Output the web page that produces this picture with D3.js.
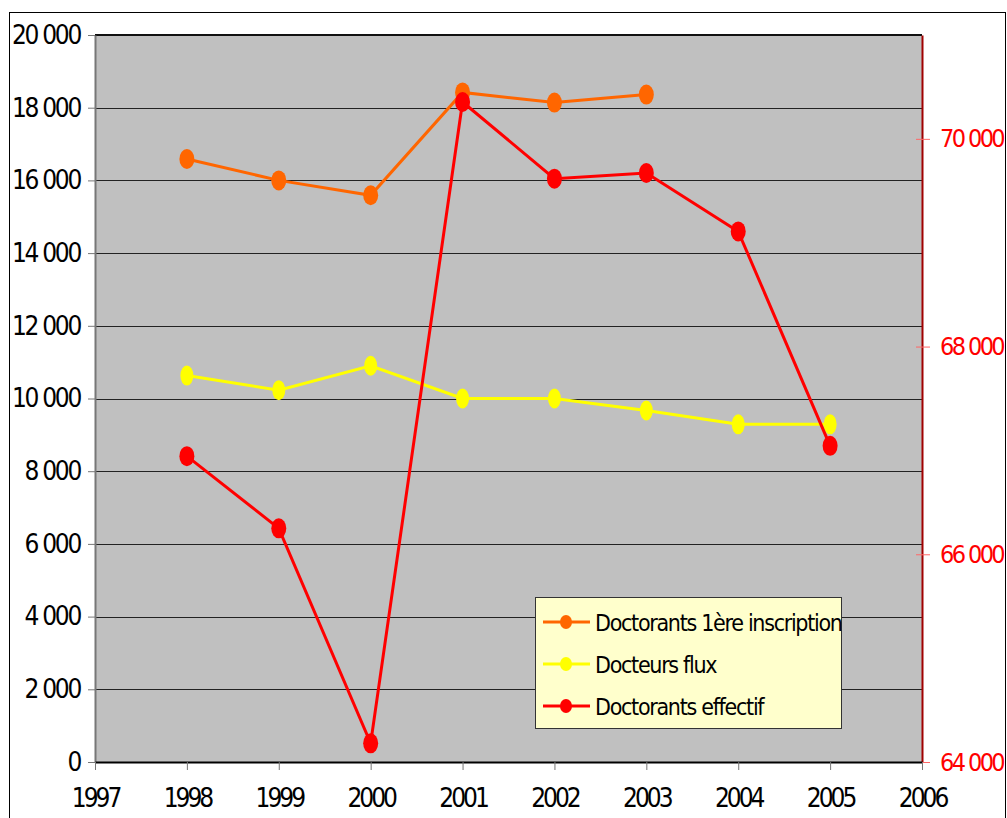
<!DOCTYPE html>
<html>
<head>
<meta charset="utf-8">
<script src="https://cdn.jsdelivr.net/npm/d3@7"></script>
<style>
  html, body { margin: 0; padding: 0; background: #fff; }
  svg text { font-family: "DejaVu Sans Condensed", "DejaVu Sans", sans-serif; }
</style>
</head>
<body>
<div id="chart"></div>
<script>
const years = [1998, 1999, 2000, 2001, 2002, 2003, 2004, 2005];
const inscription = [16590, 16000, 15590, 18420, 18140, 18360, null, null];
const docteursFlux = [10630, 10230, 10900, 10000, 10000, 9670, 9290, 9290];
const effectif = [66945, 66250, 64180, 70355, 69617, 69671, 69109, 67044];

const seriesNames = ["Doctorants 1ère inscription", "Docteurs flux", "Doctorants effectif"];
const seriesColors = ["#ff6600", "#ffff00", "#ff0000"];

const leftTicks = d3.range(0, 20001, 2000);
const rightTicks = [64000, 66000, 68000, 70000];
const yearTicks = d3.range(1997, 2007);

const W = 1007, H = 818;
const plot = { left: 95, right: 922, top: 35, bottom: 762 };

const fr = d3.formatLocale({ decimal: ",", thousands: " ", grouping: [3], currency: ["", ""] });
const fmt = fr.format(",");

const svg = d3.select('#chart').append('svg')
  .attr('width', W)
  .attr('height', H);

// outer chart border
svg.append('rect')
  .attr('x', 9.5).attr('y', 12.5)
  .attr('width', 996).attr('height', 820)
  .attr('fill', '#fff')
  .attr('stroke', '#000')
  .attr('stroke-width', 1);

const x = d3.scaleLinear().domain([1997, 2006]).range([plot.left, plot.right]);
const yL = d3.scaleLinear().domain([0, 20000]).range([plot.bottom, plot.top]);
const yR = d3.scaleLinear().domain([64000, 71000]).range([plot.bottom, plot.top]);

// plot background
svg.append('rect')
  .attr('x', plot.left).attr('y', plot.top)
  .attr('width', plot.right - plot.left)
  .attr('height', plot.bottom - plot.top)
  .attr('fill', '#c0c0c0');

// gridlines
svg.append('g')
  .selectAll('line')
  .data(leftTicks.filter(d => d > 0 && d < 20000))
  .enter()
  .append('line')
    .attr('x1', plot.left).attr('x2', plot.right)
    .attr('y1', d => Math.round(yL(d)) + 0.5)
    .attr('y2', d => Math.round(yL(d)) + 0.5)
    .attr('stroke', '#222')
    .attr('stroke-width', 1);

// top border of plot
svg.append('line')
  .attr('x1', plot.left).attr('x2', plot.right)
  .attr('y1', plot.top).attr('y2', plot.top)
  .attr('stroke', '#111').attr('stroke-width', 2);

// left axis
const leftAxis = svg.append('g')
  .attr('transform', `translate(${plot.left},0)`)
  .call(d3.axisLeft(yL).tickValues(leftTicks).tickFormat(fmt).tickSize(7).tickSizeOuter(0).tickPadding(8));
leftAxis.select('.domain').attr('stroke', '#777').attr('stroke-width', 2);
leftAxis.selectAll('.tick line').attr('stroke', '#777');
leftAxis.selectAll('text')
  .attr('fill', '#000')
  .style('font-size', '26px')
  .style('letter-spacing', '-2.3px');

// right axis
const rightAxis = svg.append('g')
  .attr('transform', `translate(${plot.right},0)`)
  .call(d3.axisRight(yR).tickValues(rightTicks).tickFormat(fmt).tickSize(8).tickSizeOuter(0).tickPadding(10));
rightAxis.select('.domain').attr('stroke', '#a00000').attr('stroke-width', 2);
rightAxis.selectAll('.tick line').attr('stroke', '#ff6666').attr('x1', -6);
rightAxis.selectAll('text')
  .attr('fill', '#ff0000')
  .style('font-size', '25px')
  .style('letter-spacing', '-2.6px');

// bottom axis
const bottomAxis = svg.append('g')
  .attr('transform', `translate(0,${plot.bottom})`)
  .call(d3.axisBottom(x).tickValues(yearTicks).tickFormat(d3.format('d')).tickSize(8).tickSizeOuter(0).tickPadding(19));
bottomAxis.select('.domain').attr('stroke', '#000').attr('stroke-width', 2);
bottomAxis.selectAll('.tick line').attr('stroke', '#777');
bottomAxis.selectAll('text')
  .attr('fill', '#000')
  .style('font-size', '26px')
  .style('letter-spacing', '-3px');

// series
const seriesData = [
  { values: inscription, y: yL, color: seriesColors[0], rx: 7.5 },
  { values: docteursFlux, y: yL, color: seriesColors[1], rx: 6.5 },
  { values: effectif, y: yR, color: seriesColors[2], rx: 7.5 }
];

seriesData.forEach(s => {
  const pts = years.map((yr, i) => ({ yr, v: s.values[i] })).filter(d => d.v != null);
  const line = d3.line().x(d => x(d.yr)).y(d => s.y(d.v));
  const g = svg.append('g');
  g.append('path')
    .attr('d', line(pts))
    .attr('fill', 'none')
    .attr('stroke', s.color)
    .attr('stroke-width', 3);
  g.selectAll('ellipse')
    .data(pts)
    .enter()
    .append('ellipse')
      .attr('cx', d => x(d.yr))
      .attr('cy', d => s.y(d.v))
      .attr('rx', s.rx)
      .attr('ry', 10)
      .attr('fill', s.color);
});

// legend
const legend = svg.append('g').attr('transform', 'translate(535,597)');
legend.append('rect')
  .attr('x', 0.5).attr('y', 0.5)
  .attr('width', 306).attr('height', 131)
  .attr('fill', '#ffffcc')
  .attr('stroke', '#333')
  .attr('stroke-width', 1);

const items = legend.selectAll('.legend-item')
  .data(seriesNames)
  .enter()
  .append('g')
    .attr('class', 'legend-item')
    .attr('transform', (d, i) => `translate(0, ${25 + i * 42})`);

items.append('line')
  .attr('x1', 8).attr('x2', 55)
  .attr('y1', 0).attr('y2', 0)
  .attr('stroke', (d, i) => seriesColors[i])
  .attr('stroke-width', 3);
items.append('ellipse')
  .attr('cx', 31).attr('cy', 0)
  .attr('rx', 6).attr('ry', 7)
  .attr('fill', (d, i) => seriesColors[i]);
items.append('text')
  .attr('x', 60)
  .attr('y', 9)
  .style('font-size', '23px')
  .style('letter-spacing', '-1.3px')
  .attr('fill', '#000')
  .text(d => d);
</script>
</body>
</html>
